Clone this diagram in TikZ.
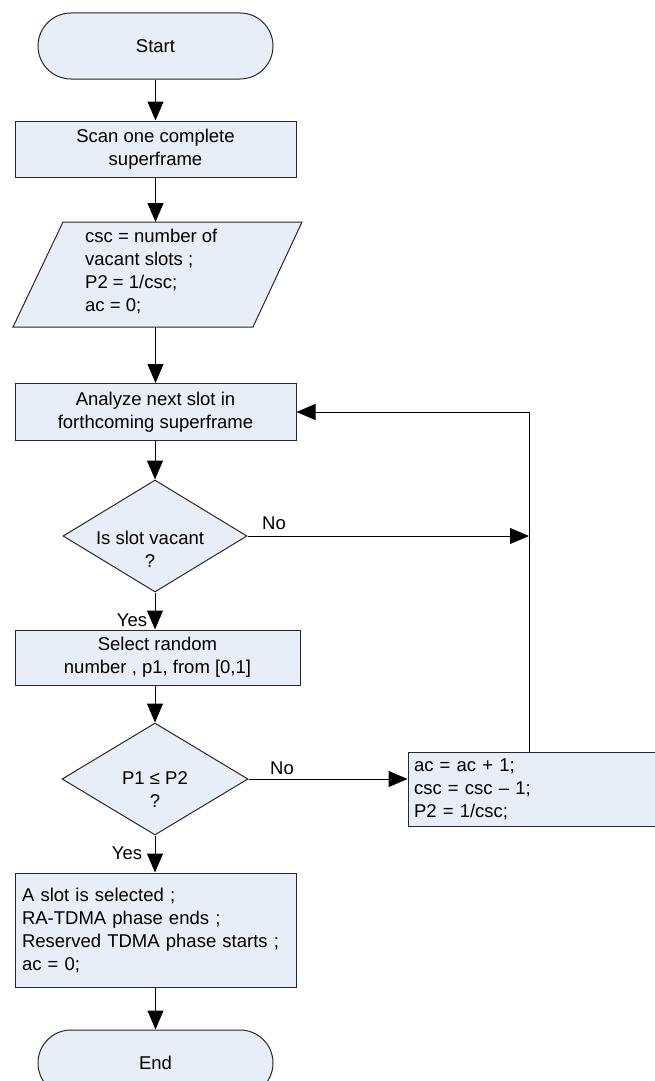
\documentclass[tikz,border=0pt]{standalone}
\usepackage{fontspec}
\setmainfont{Liberation Sans}
\usetikzlibrary{shapes.geometric,shapes.misc,arrows.meta}
\definecolor{boxfill}{RGB}{232,238,247}
\definecolor{edge}{RGB}{40,40,40}
\tikzset{
  every node/.style={font=\fontsize{18.5}{23}\selectfont},
  procbox/.style={draw=edge, line width=1pt, fill=boxfill, rectangle, inner sep=0pt},
  termbox/.style={draw=edge, line width=1pt, fill=boxfill, rounded rectangle, minimum width=235pt, minimum height=66pt, inner sep=0pt},
  decbox/.style={draw=edge, line width=1pt, fill=boxfill, diamond, minimum width=184pt, minimum height=112pt, inner sep=0pt},
  conn/.style={draw=black, line width=1pt},
  arr/.style={conn, -{Triangle[length=19pt,width=16pt]}},
  lbl/.style={inner sep=0pt}
}
\begin{document}
\begin{tikzpicture}[x=1pt,y=-1pt]
\useasboundingbox (0,0) rectangle (655,1081);
\clip (0,0) rectangle (655,1081);
\fill[white] (0,0) rectangle (655,1081);

% Start
\node[termbox] (start) at (155.5,46) {Start};
% Scan
\node[procbox, minimum width=281pt, minimum height=56pt, align=center] (scan) at (155.5,149) {Scan one complete\\superframe};
% Parallelogram
\coordinate (parT) at (155.5,222);
\coordinate (parB) at (155.5,327);
\draw[draw=edge, line width=1pt, fill=boxfill] (63,222) -- (302,222) -- (253,327) -- (13,327) -- cycle;
\node[lbl, anchor=west, align=left] (partext) at (85,271) {csc = number of\\vacant slots ;\\P2 = 1/csc;\\ac = 0;};
% Analyze
\node[procbox, minimum width=281pt, minimum height=57pt, align=center] (an) at (155.5,412) {Analyze next slot in\\forthcoming superframe};
% Decision 1
\node[decbox] (d1) at (155,536) {};
\node[lbl, align=center] (d1t) at (150,549) {Is slot vacant\\?};
% Select
\node[procbox, minimum width=285pt, minimum height=55pt, align=center] (sel) at (157.5,657.5) {Select random\\number , p1, from [0,1]};
% Decision 2
\node[decbox, minimum width=186pt] (d2) at (155,779) {};
\node[lbl, align=center] (d2t) at (155,790) {P1 ≤ P2\\?};
% ac box
\node[procbox, minimum height=74pt, text width=246pt, inner xsep=6pt, align=left] (ac) at (537,789) {ac = ac + 1;\\csc = csc -- 1;\\P2 = 1/csc;};
% Final
\node[procbox, minimum height=114pt, text width=267pt, inner xsep=7pt, align=left] (fin) at (155.5,930) {A slot is selected ;\\RA-TDMA phase ends ;\\Reserved TDMA phase starts ;\\ac = 0;};
% End
\node[termbox] (end) at (155.5,1063) {End};

% junctions
\coordinate (J) at (529,536);
\coordinate (K) at (529,412);

% connectors
\draw[arr] (start.south) -- (scan.north);
\draw[arr] (scan.south) -- (parT);
\draw[arr] (parB) -- (an.north);
\draw[arr] (an.south -| d1.north) -- (d1.north);
\draw[arr] (d1.south) -- (sel.north -| d1.south);
\draw[arr] (sel.south -| d2.north) -- (d2.north);
\draw[arr] (d2.south) -- (fin.north -| d2.south);
\draw[arr] (fin.south) -- (end.north);
\draw[arr] (d1.east) -- (J);
\draw[arr] (d2.east) -- (ac.west |- d2.east);
\draw[arr] (ac.north -| K) -- (K) -- (an.east);

% labels
\node[lbl] (no1) at (274,523) {No};
\node[lbl] (no2) at (282,768) {No};
\node[lbl] (yes1) at (132,620) {Yes};
\node[lbl] (yes2) at (127,853) {Yes};
\end{tikzpicture}
\end{document}
